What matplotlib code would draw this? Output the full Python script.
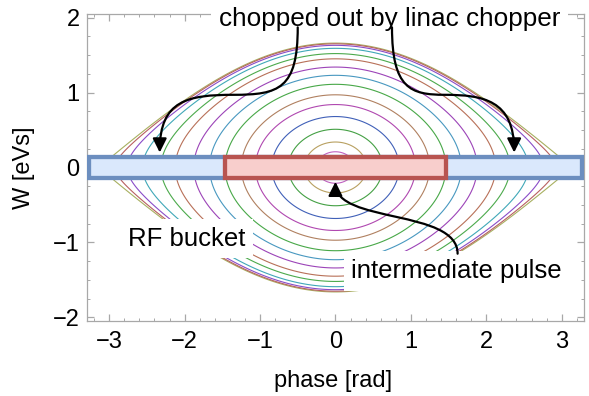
import matplotlib
matplotlib.use("Agg")

import matplotlib.pyplot as plt
import numpy as np
from matplotlib.patches import FancyArrowPatch, Rectangle
from matplotlib.path import Path
from matplotlib.ticker import MultipleLocator


# bucket half-height (W at phase 0 on the separatrix), eVs
SEPARATRIX_W = 1.66

# orbit heights at phase 0, outside -> inside
ORBIT_W0 = [1.66, 1.65, 1.63, 1.59, 1.52, 1.45, 1.34, 1.23, 1.11,
            0.97, 0.84, 0.68, 0.51, 0.34, 0.21]
ORBIT_COLORS = ["#a8b060", "#b86060", "#8a4cc8", "#40a8b8", "#4caa4c",
                "#b87058", "#9c44b8", "#4898c0", "#48a848", "#b08060",
                "#b048b0", "#4060b8", "#44a044", "#b8a060", "#c060c0"]

# bunch boxes: (phase_min, phase_max, W_half)
FULL_PULSE = (-3.27, 3.27, 0.14)
INTERMEDIATE_PULSE = (-1.46, 1.46, 0.14)

# arrow control points (phase, W)
CHOP_LEFT = [(-0.50, 1.87), (-0.50, 1.05), (-0.75, 0.97), (-1.35, 0.97),
             (-1.95, 0.97), (-2.33, 0.90), (-2.33, 0.20)]
CHOP_RIGHT = [(0.75, 1.87), (0.75, 1.05), (1.00, 0.97), (1.45, 0.97),
              (1.95, 0.97), (2.37, 0.90), (2.37, 0.20)]
PULSE_ARROW = [(1.62, -1.15), (1.62, -0.55), (0.0, -0.75), (0.0, -0.19)]

XLIM = (-3.30, 3.30)
YLIM = (-2.05, 2.05)

plt.rcParams["font.family"] = ["Liberation Sans", "DejaVu Sans"]

FRAME_GRAY = "#a8a8a8"


def curve_path(points):
    codes = [Path.MOVETO] + [Path.CURVE4] * (len(points) - 1)
    return Path(points, codes)


def add_arrow(ax, points):
    arrow = FancyArrowPatch(
        path=curve_path(points),
        arrowstyle="-|>,head_length=0.6,head_width=0.3",
        mutation_scale=14,
        color="black",
        linewidth=1.6,
        zorder=6,
    )
    ax.add_patch(arrow)


def add_box(ax, box, face, edge):
    x0, x1, h = box
    ax.add_patch(Rectangle((x0, -h), x1 - x0, 2 * h, facecolor=face,
                           edgecolor=edge, linewidth=3.1, zorder=3))


def main() -> None:
    fig = plt.figure(figsize=(5.89, 3.96), dpi=100)
    ax = fig.add_axes([0.147, 0.189, 0.845, 0.776])

    phase = np.linspace(-np.pi, np.pi, 900)
    w = np.linspace(-1.9, 1.9, 700)
    P, Wg = np.meshgrid(phase, w)
    H = Wg**2 + SEPARATRIX_W**2 * np.sin(P / 2) ** 2

    for w0, color in zip(ORBIT_W0, ORBIT_COLORS):
        level = min(w0**2, SEPARATRIX_W**2 * 0.99995)
        ax.contour(P, Wg, H, levels=[level], colors=[color],
                   linewidths=0.8, zorder=1)

    add_box(ax, FULL_PULSE, "#dae8fc", "#6c8ebf")
    add_box(ax, INTERMEDIATE_PULSE, "#f8cecc", "#b85450")

    add_arrow(ax, CHOP_LEFT)
    add_arrow(ax, CHOP_RIGHT)
    add_arrow(ax, PULSE_ARROW)

    white_box = dict(facecolor="white", edgecolor="none", boxstyle="square,pad=0.3")
    ax.text(-1.55, 1.98, "chopped out by linac chopper", fontsize=18.8,
            ha="left", va="center", bbox=white_box, zorder=5, clip_on=False)
    ax.text(-2.75, -0.95, "RF bucket", fontsize=18.5, ha="left",
            va="center", bbox=white_box, zorder=5)
    ax.text(0.21, -1.38, "intermediate pulse", fontsize=18.5, ha="left",
            va="center", bbox=white_box, zorder=5)

    ax.set_xlim(*XLIM)
    ax.set_ylim(*YLIM)
    ax.xaxis.set_major_locator(MultipleLocator(1))
    ax.xaxis.set_minor_locator(MultipleLocator(0.2))
    ax.yaxis.set_major_locator(MultipleLocator(1))
    ax.yaxis.set_minor_locator(MultipleLocator(0.25))

    for spine in ax.spines.values():
        spine.set_color(FRAME_GRAY)
        spine.set_linewidth(0.9)
    ax.tick_params(which="both", direction="in", top=True, right=True,
                   color=FRAME_GRAY, labelsize=17)
    ax.tick_params(which="major", length=5, width=0.9)
    ax.tick_params(which="minor", length=2.5, width=0.7)
    ax.tick_params(axis="x", pad=7)
    ax.tick_params(axis="y", pad=5)

    ax.set_xlabel("phase [rad]", fontsize=17, va="center")
    ax.set_ylabel("W [eVs]", fontsize=17, va="center")
    ax.xaxis.set_label_coords(0.495, -0.195)
    ax.yaxis.set_label_coords(-0.125, 0.5)

    fig.savefig("out.png", dpi=100)


if __name__ == "__main__":
    main()
